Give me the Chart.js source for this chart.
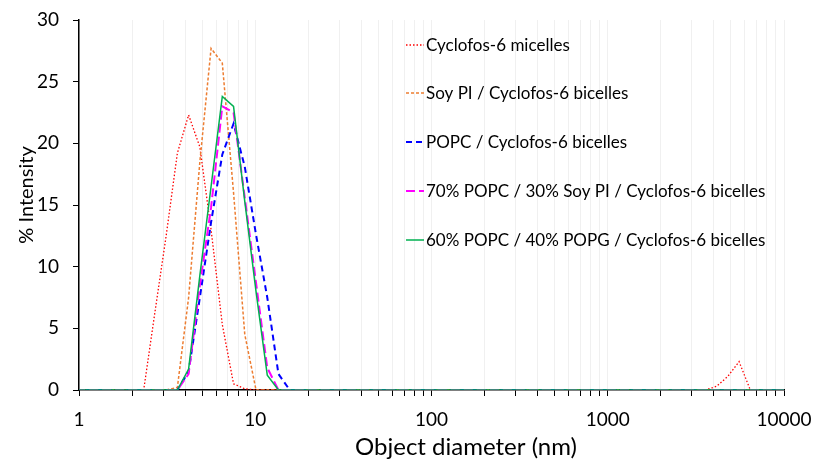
<!DOCTYPE html>
<html lang="en">
<head>
<meta charset="UTF-8">
<title>DLS size distribution</title>
<script src="https://cdn.jsdelivr.net/npm/chart.js@4"></script>
<style>
  html, body { margin: 0; padding: 0; background: #fff; }
</style>
</head>
<body>
<canvas id="chart" width="814" height="459"></canvas>
<script>
// size bins (nm)
const sizes = [0.965, 2.011, 2.328, 2.696, 3.122, 3.615, 4.187, 4.850, 5.615, 6.503, 7.531, 8.721, 10.10, 11.70, 13.54, 15.69, 18.17,
               3091, 3580, 4145, 4801, 5560, 6439, 7456, 10000]

// % intensity per bin
const micelles   = [0, 0, 0, 6.3, 12.5, 19.2, 22.3, 19.7, 13.0, 5.3, 0.5, 0.1, 0, 0, 0, 0, 0,  0, 0, 0.3, 1.1, 2.3, 0, 0, 0]
const soyPI      = [0, 0, 0, 0, 0, 0.2, 7.5, 18.5, 27.7, 26.5, 16.0, 4.5, 0, 0, 0, 0, 0,  0, 0, 0, 0, 0, 0, 0, 0]
const popc       = [0, 0, 0, 0, 0, 0, 1.5, 7.5, 13.6, 19.1, 21.6, 18.1, 12.6, 7.5, 1.3, 0, 0,  0, 0, 0, 0, 0, 0, 0, 0]
const popcSoyPI  = [0, 0, 0, 0, 0, 0, 1.3, 8.5, 14.8, 23.0, 22.5, 15.6, 8.7, 1.8, 0, 0, 0,  0, 0, 0, 0, 0, 0, 0, 0]
const popcPopg   = [0, 0, 0, 0, 0, 0, 1.7, 9.3, 16.5, 23.8, 23.0, 15.3, 8.0, 1.2, 0, 0, 0,  0, 0, 0, 0, 0, 0, 0, 0]

const seriesNames = [
  'Cyclofos-6 micelles',
  'Soy PI / Cyclofos-6 bicelles',
  'POPC / Cyclofos-6 bicelles',
  '70% POPC / 30% Soy PI / Cyclofos-6 bicelles',
  '60% POPC / 40% POPG / Cyclofos-6 bicelles'
]

const xMajorTicks = [1, 10, 100, 1000, 10000]
const yTicks = [0, 5, 10, 15, 20, 25, 30]

const FONT = 'Lato'

function pts(vals) {
  return sizes.map((s, i) => ({ x: s, y: vals[i] }))
}

function ds(label, vals, color, dash, width, order) {
  return {
    label: label,
    data: pts(vals),
    borderColor: color,
    backgroundColor: color,
    borderDash: dash,
    borderWidth: width,
    pointRadius: 0,
    tension: 0,
    fill: false,
    order: order
  }
}

// legend drawn inside the plot, like the original
const insideLegend = {
  id: 'insideLegend',
  afterDraw(chart) {
    const c = chart.ctx
    const rows = [45, 93, 142, 191, 240]
    chart.data.datasets.forEach((d, i) => {
      const y = rows[i]
      c.save()
      c.strokeStyle = d.borderColor
      c.lineWidth = d.borderWidth
      c.setLineDash(d.borderDash)
      c.beginPath()
      c.moveTo(406, y)
      c.lineTo(424, y)
      c.stroke()
      c.setLineDash([])
      c.fillStyle = '#000'
      c.font = '17px ' + FONT
      c.textBaseline = 'middle'
      c.textAlign = 'left'
      c.fillText(d.label, 426, y + 1)
      c.restore()
    })
    // axis titles
    c.save()
    c.fillStyle = '#000'
    c.textAlign = 'center'
    c.textBaseline = 'alphabetic'
    c.font = '24px ' + FONT
    c.fillText('Object diameter (nm)', 466, 455)
    c.font = '20px ' + FONT
    c.translate(33, 195)
    c.rotate(-Math.PI / 2)
    c.fillText('% Intensity', 0, 0)
    c.restore()
  }
}

window.onload = function () {
  const ctx = document.getElementById('chart').getContext('2d')

  new Chart(ctx, {
    type: 'line',
    data: {
      datasets: [
        ds(seriesNames[0], micelles, '#FF0000', [1.5, 2], 1.3, 5),
        ds(seriesNames[1], soyPI, '#ED7D31', [3, 2], 1.5, 4),
        ds(seriesNames[2], popc, '#0000FF', [6, 4], 2, 3),
        ds(seriesNames[3], popcSoyPI, '#FF00FF', [9, 4], 2, 2),
        ds(seriesNames[4], popcPopg, '#00B050', [], 1.5, 1)
      ]
    },
    options: {
      responsive: false,
      animation: false,
      layout: { padding: { top: 20, right: 30, left: 0, bottom: 0 } },
      plugins: {
        legend: { display: false },
        tooltip: { enabled: false }
      },
      scales: {
        x: {
          type: 'logarithmic',
          min: 1,
          max: 10000,
          afterFit: s => {
            s.height = 69
            s.paddingLeft = 0
            s.paddingRight = 0
          },
          afterBuildTicks: s => {
            const t = []
            xMajorTicks.forEach((m, i) => {
              if (i === xMajorTicks.length - 1) { t.push({ value: m }); return }
              for (let k = 1; k < 10; k++) t.push({ value: m * k })
            })
            s.ticks = t
          },
          ticks: {
            autoSkip: false,
            maxRotation: 0,
            color: '#000',
            padding: 12,
            font: { family: FONT, size: 19 },
            callback: v => xMajorTicks.includes(v) ? String(v) : ''
          },
          grid: {
            color: '#F0F0F0',
            lineWidth: 1,
            drawTicks: true,
            tickLength: 6,
            tickColor: '#000'
          },
          border: { color: '#000', width: 1.5 },
          title: { display: false }
        },
        y: {
          min: 0,
          max: 30,
          afterFit: s => {
            s.width = 79
            s.paddingTop = 0
            s.paddingBottom = 0
          },
          afterBuildTicks: s => { s.ticks = yTicks.map(v => ({ value: v })) },
          ticks: {
            color: '#000',
            padding: 14,
            font: { family: FONT, size: 19 }
          },
          grid: {
            drawOnChartArea: false,
            drawTicks: true,
            tickLength: 6,
            tickColor: '#000'
          },
          border: { color: '#000', width: 1.5 },
          title: { display: false }
        }
      }
    },
    plugins: [insideLegend]
  })
}
</script>
</body>
</html>
